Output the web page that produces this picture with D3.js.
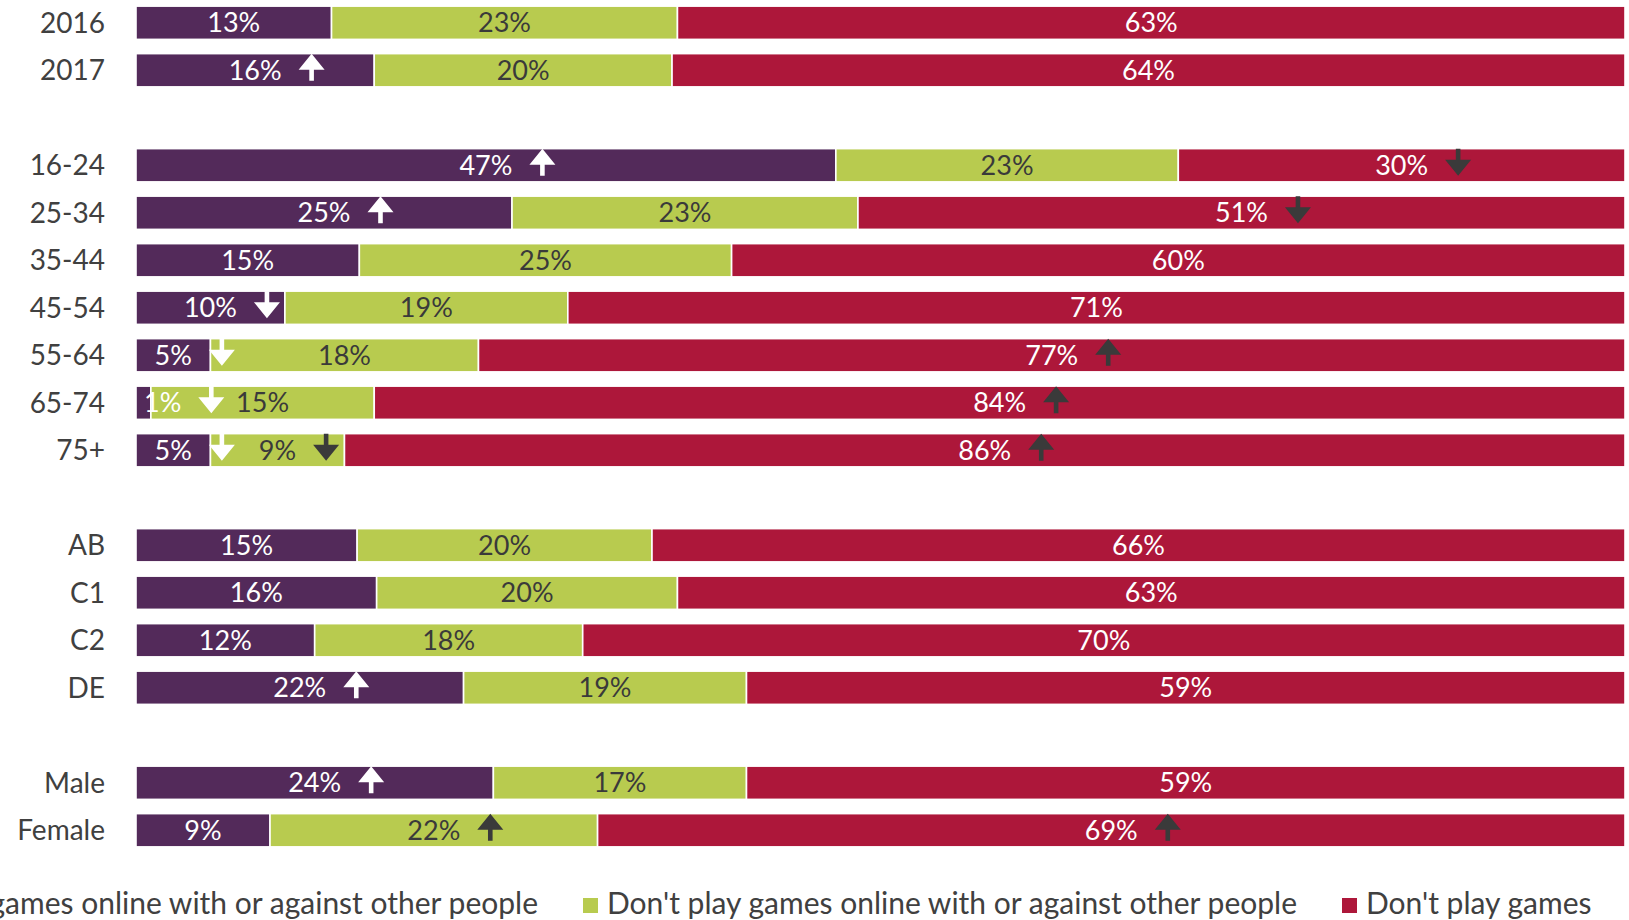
<!DOCTYPE html>
<html><head><meta charset="utf-8">
<script src="https://cdn.jsdelivr.net/npm/d3@7"></script>
<style>
body{margin:0;background:#fff;overflow:hidden;}
svg{display:block;font-family:Lato,'Open Sans',sans-serif;}
</style>
</head><body><svg id="chart" width="1629" height="920"></svg>
<script>
// ---- data ----
const groups = [
  ["2016","2017"],
  ["16-24","25-34","35-44","45-54","55-64","65-74","75+"],
  ["AB","C1","C2","DE"],
  ["Male","Female"]
];
const categories = groups.flat();
const playOnline   = [13,16,47,25,15,10, 5, 1, 5,15,16,12,22,24, 9];
const notOnline    = [23,20,23,23,25,19,18,15, 9,20,20,18,19,17,22];
const noGames      = [63,64,30,51,60,71,77,84,86,66,63,70,59,59,69];
const seriesNames = [
  "Play games online with or against other people",
  "Don't play games online with or against other people",
  "Don't play games"
];
// significant change markers per series
const playOnlineChange = [null,"up","up","up",null,"down","down","down","down",null,null,null,"up","up",null];
const notOnlineChange  = [null,null,null,null,null,null,null,null,"down",null,null,null,null,null,"up"];
const noGamesChange    = [null,null,"down","down",null,null,"up","up","up",null,null,null,null,null,"up"];

// ---- setup ----
const colors = ["#532a5a","#b8cb4f","#ad173a"];
const labelColors = ["#ffffff","#3a3a3a","#ffffff"];
const arrowColors = ["#ffffff","#3a3a3a","#3a3a3a"];
const keys = ["s0","s1","s2"];
const changes = [playOnlineChange, notOnlineChange, noGamesChange];

const rows = categories.map((c,i)=>({cat:c, s0:playOnline[i], s1:notOnline[i], s2:noGames[i], idx:i}));

const slots = [];
groups.forEach((g,gi)=>{ if(gi>0) slots.push("gap"+gi); g.forEach(c=>slots.push(c)); });

const svg = d3.select("#chart");
const x = d3.scaleLinear().domain([0,1]).range([136,1625]);
const y = d3.scaleBand().domain(slots).range([-1,854]).paddingInner(0.3).paddingOuter(0.15);

const stacked = d3.stack().keys(keys).offset(d3.stackOffsetExpand)(rows);

// y labels
svg.append("g").selectAll("text").data(categories).join("text")
  .attr("x",105).attr("y",d=>y(d)+y.bandwidth()/2)
  .attr("dy","0.36em").attr("text-anchor","end")
  .attr("font-size",28).attr("fill","#404040").text(d=>d);

const segG = svg.append("g");
stacked.forEach((ser,si)=>{
  const g = segG.append("g");
  g.selectAll("rect").data(ser).join("rect")
    .attr("x",d=>x(d[0])).attr("y",d=>y(d.data.cat))
    .attr("width",d=>Math.max(0,x(d[1])-x(d[0])))
    .attr("height",y.bandwidth())
    .attr("fill",colors[si]).attr("stroke","#fff").attr("stroke-width",1.6);
});

const arrowPath = dir => dir==="up"
  ? "M0,-13.5 L13,2.5 L2.3,2.5 L2.3,13.5 L-2.3,13.5 L-2.3,2.5 L-13,2.5 Z"
  : "M0,13.5 L13,-2.5 L2.3,-2.5 L2.3,-13.5 L-2.3,-13.5 L-2.3,-2.5 L-13,-2.5 Z";

const labG = svg.append("g");
stacked.forEach((ser,si)=>{
  ser.forEach(d=>{
    const cy = y(d.data.cat)+y.bandwidth()/2;
    const x0 = x(d[0]), x1 = x(d[1]);
    const t = labG.append("text")
      .attr("y",cy).attr("dy","0.36em").attr("text-anchor","middle")
      .attr("font-size",27).attr("fill",labelColors[si])
      .text(d.data[keys[si]]+"%");
    const w = t.node().getComputedTextLength();
    const cx = Math.max((x0+x1)/2, x0 + w/2 + 8);
    t.attr("x",cx);
    const ch = changes[si][d.data.idx];
    if(ch){
      labG.append("path").attr("d",arrowPath(ch))
        .attr("transform",`translate(${cx + w/2 + 30},${cy-3})`)
        .attr("fill",arrowColors[si]);
    }
  });
});

// legend
const lg = svg.append("g");
const items = seriesNames.map((n,i)=>{
  const g = lg.append("g");
  g.append("rect").attr("width",15).attr("height",15).attr("y",-15).attr("fill",colors[i]);
  const t = g.append("text").attr("x",24).attr("y",0).attr("dy","1").attr("font-size",30).attr("fill","#404040").text(n);
  return {g, w:24+t.node().getComputedTextLength()};
});
const ly = 913, gapL = 45;
const midX = 940 - items[1].w/2;
items[1].g.attr("transform",`translate(${midX},${ly})`);
items[0].g.attr("transform",`translate(${midX - gapL - items[0].w},${ly})`);
items[2].g.attr("transform",`translate(${midX + items[1].w + gapL},${ly})`);
</script>
</body></html>
